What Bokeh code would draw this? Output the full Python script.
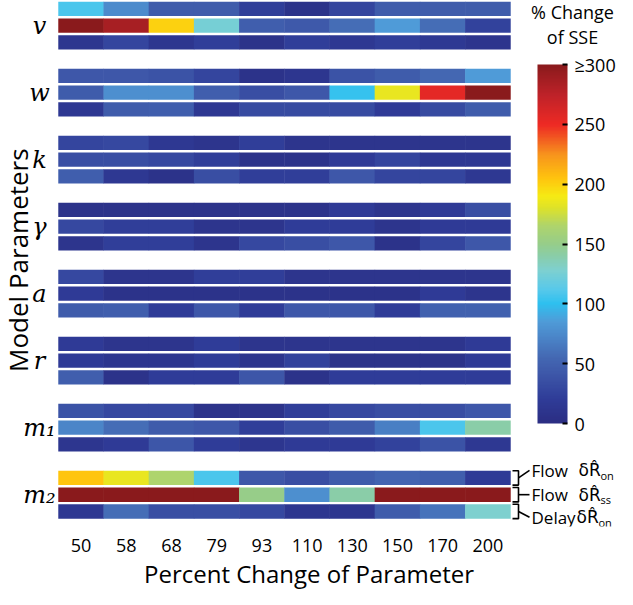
import numpy as np
from math import pi
from bokeh.plotting import figure
from bokeh.models import (ColumnDataSource, LinearColorMapper, ColorBar, FixedTicker,
                          Range1d, Title)
from bokeh.core.properties import value
from bokeh.embed import file_html
from bokeh.resources import INLINE

# ---------------- data ----------------
pct_labels = ["50", "58", "68", "79", "93", "110", "130", "150", "170", "200"]
param_names = ["v", "w", "k", "γ", "a", "r", "m₁", "m₂"]

v_vals = [[108, 75, 45, 45, 22, 8, 28, 45, 45, 45],
          [300, 285, 200, 125, 48, 43, 58, 85, 58, 25],
          [12, 28, 12, 22, 8, 22, 15, 22, 16, 10]]
w_vals = [[42, 42, 38, 28, 8, 12, 38, 45, 55, 85],
          [45, 78, 78, 48, 35, 42, 102, 185, 255, 300],
          [15, 45, 48, 15, 32, 32, 32, 18, 32, 45]]
k_vals = [[28, 30, 15, 10, 22, 10, 10, 10, 10, 10],
          [35, 35, 30, 22, 8, 8, 18, 28, 15, 15],
          [48, 15, 8, 35, 22, 22, 42, 28, 28, 15]]
gamma_vals = [[8, 8, 8, 8, 8, 8, 18, 10, 18, 35],
              [30, 22, 22, 10, 10, 20, 20, 10, 18, 18],
              [10, 22, 22, 10, 30, 35, 42, 8, 28, 42]]
a_vals = [[30, 10, 10, 22, 22, 10, 10, 10, 10, 10],
          [18, 8, 8, 8, 8, 8, 8, 8, 18, 10],
          [45, 48, 20, 42, 20, 42, 42, 20, 50, 50]]
r_vals = [[18, 10, 10, 20, 10, 10, 10, 10, 10, 18],
          [18, 12, 12, 20, 10, 25, 8, 8, 8, 18],
          [48, 8, 20, 20, 40, 8, 20, 20, 20, 20]]
m1_vals = [[38, 30, 30, 8, 8, 22, 30, 35, 35, 42],
           [72, 58, 45, 42, 22, 35, 45, 68, 108, 140],
           [12, 18, 40, 20, 12, 18, 18, 25, 38, 15]]
m2_vals = [[205, 185, 165, 108, 42, 35, 45, 52, 48, 18],
           [300, 300, 300, 300, 150, 78, 140, 300, 300, 300],
           [15, 58, 35, 35, 30, 12, 12, 45, 62, 128]]

groups = [v_vals, w_vals, k_vals, gamma_vals, a_vals, r_vals, m1_vals, m2_vals]
cbar_ticks = [0, 50, 100, 150, 200, 250, 300]
m2_row_labels = [("Flow", "on"), ("Flow", "ss"), ("Delay", "on")]

# ---------------- colour palette (jet-like) ----------------
anchors = [(0, "#2B2E83"), (20, "#2F3C98"), (40, "#3D56A8"), (55, "#4468B3"),
           (70, "#4A82C6"), (85, "#4F9CD8"), (100, "#2EC0EF"), (112, "#58C9EA"),
           (128, "#7ED0D0"), (140, "#8ACDA8"), (150, "#96CD8A"), (165, "#AED46C"),
           (180, "#DDE22A"), (190, "#F6EB14"), (205, "#FFC40E"), (225, "#F7941D"),
           (250, "#EE2A24"), (275, "#BE2229"), (300, "#8A1A1C")]
av = np.array([a[0] for a in anchors], float)
ac = np.array([[int(c[1][i:i + 2], 16) for i in (1, 3, 5)] for c in anchors], float)
grid = np.linspace(0, 300, 256)
palette = []
for g in grid:
    rgb = [int(round(np.interp(g, av, ac[:, k]))) for k in range(3)]
    palette.append("#%02x%02x%02x" % tuple(rgb))

mapper = LinearColorMapper(palette=palette, low=0, high=300)

# ---------------- cells ----------------
xs, ys, vals = [], [], []
for gi, grp in enumerate(groups):
    for ri, row in enumerate(grp):
        for ci, val in enumerate(row):
            xs.append(ci)
            ys.append(gi * 4 + ri)
            vals.append(val)
src = ColumnDataSource(dict(x=xs, y=ys, val=vals))

W, H = 617, 589
col_px = 45.2
left_px = 58
x_start = -0.5 - left_px / col_px
x_end = x_start + W / col_px
y_top, y_bot = -0.5, 30.9
frame_h = 528


def px_x(px):
    return x_start + px / col_px


p = figure(width=W, height=H, output_backend="svg", toolbar_location=None,
           x_range=Range1d(x_start, x_end), y_range=Range1d(y_bot, y_top),
           y_axis_location=None, min_border_left=0, min_border_right=0,
           min_border_top=0, min_border_bottom=H - frame_h)
p.outline_line_color = None
p.grid.visible = False
p.background_fill_color = "white"
p.border_fill_color = "white"

p.rect(x="x", y="y", width=1.01, height=0.86, source=src,
       fill_color={"field": "val", "transform": mapper}, line_color=None)

# x axis
p.xaxis.ticker = FixedTicker(ticks=list(range(len(pct_labels))))
p.xaxis.major_label_overrides = {i: lab for i, lab in enumerate(pct_labels)}
p.xaxis.axis_line_color = None
p.xaxis.major_tick_line_color = None
p.xaxis.minor_tick_line_color = None
p.xaxis.major_label_text_font = "Open Sans"
p.xaxis.major_label_text_font_size = "18px"
p.xaxis.major_label_text_color = "black"
p.xaxis.major_label_standoff = 6

xt = Title(text="Percent Change of Parameter", align="center", offset=0,
           text_font="Open Sans", text_font_size="24px", text_font_style="normal",
           text_color="black", standoff=0)
p.add_layout(xt, "below")

# group labels (left)
p.text(x=[px_x(39)] * len(param_names), y=[g * 4 + 1 for g in range(len(param_names))],
       text=param_names, text_font=value("DejaVu Serif"), text_font_style="italic",
       text_font_size="24px", text_align="center", text_baseline="middle",
       text_color="black")
p.text(x=[px_x(17)], y=[15], text=["Model Parameters"], angle=pi / 2,
       text_font=value("Open Sans"), text_font_size="26px", text_align="center",
       text_baseline="middle", text_color="black")

# colour bar
cb = ColorBar(color_mapper=mapper, orientation="vertical", location=(537, 103),
              width=30, height=359, padding=0, margin=0,
              ticker=FixedTicker(ticks=cbar_ticks),
              major_label_overrides={300: "≥300"},
              major_label_text_font="Open Sans", major_label_text_font_size="18px",
              major_label_text_color="black",
              major_tick_line_color="black", major_tick_line_width=2,
              major_tick_in=5, major_tick_out=0, minor_tick_line_color=None,
              label_standoff=7, bar_line_color=None,
              background_fill_alpha=0, border_line_color=None)
p.add_layout(cb)

cbx = px_x(572)
p.text(x=[cbx, cbx], y=[0.2, 1.65], text=["% Change", "of SSE"],
       text_font=value("Open Sans"), text_font_size="18px", text_align="center",
       text_baseline="middle", text_color="black")

# m2 row annotations
bx_in = px_x(512)
bx = px_x(518)
bx_out = px_x(529)
offs = [-0.45, 0.0, 0.35]
lxs, lys = [], []
for i, d in enumerate(offs):
    rr = 28 + i
    lxs.append([bx_in, bx, bx, bx_in]); lys.append([rr - 0.43, rr - 0.43, rr + 0.43, rr + 0.43])
    lxs.append([bx, bx_out]); lys.append([rr, rr + d])
p.multi_line(xs=lxs, ys=lys, line_color="black", line_width=1.6)

tx1 = px_x(531)
tx2 = [px_x(578), px_x(578), px_x(576)]
for i, (w1, sub) in enumerate(m2_row_labels):
    yy = 28 + i + offs[i]
    p.text(x=[tx1], y=[yy], text=[w1], text_font=value("Open Sans"), text_font_size="17px",
           text_align="left", text_baseline="middle", text_color="black")
    p.text(x=[tx2[i]], y=[yy], text=["δR\u0302"], text_font=value("DejaVu Sans"),
           text_font_size="17px", text_align="left", text_baseline="middle", text_color="black")
    p.text(x=[tx2[i] + 22 / col_px], y=[yy + 0.3], text=[sub], text_font=value("Open Sans"),
           text_font_size="11px", text_align="left", text_baseline="middle", text_color="black")

open("out.html", "w").write(file_html(p, INLINE))
